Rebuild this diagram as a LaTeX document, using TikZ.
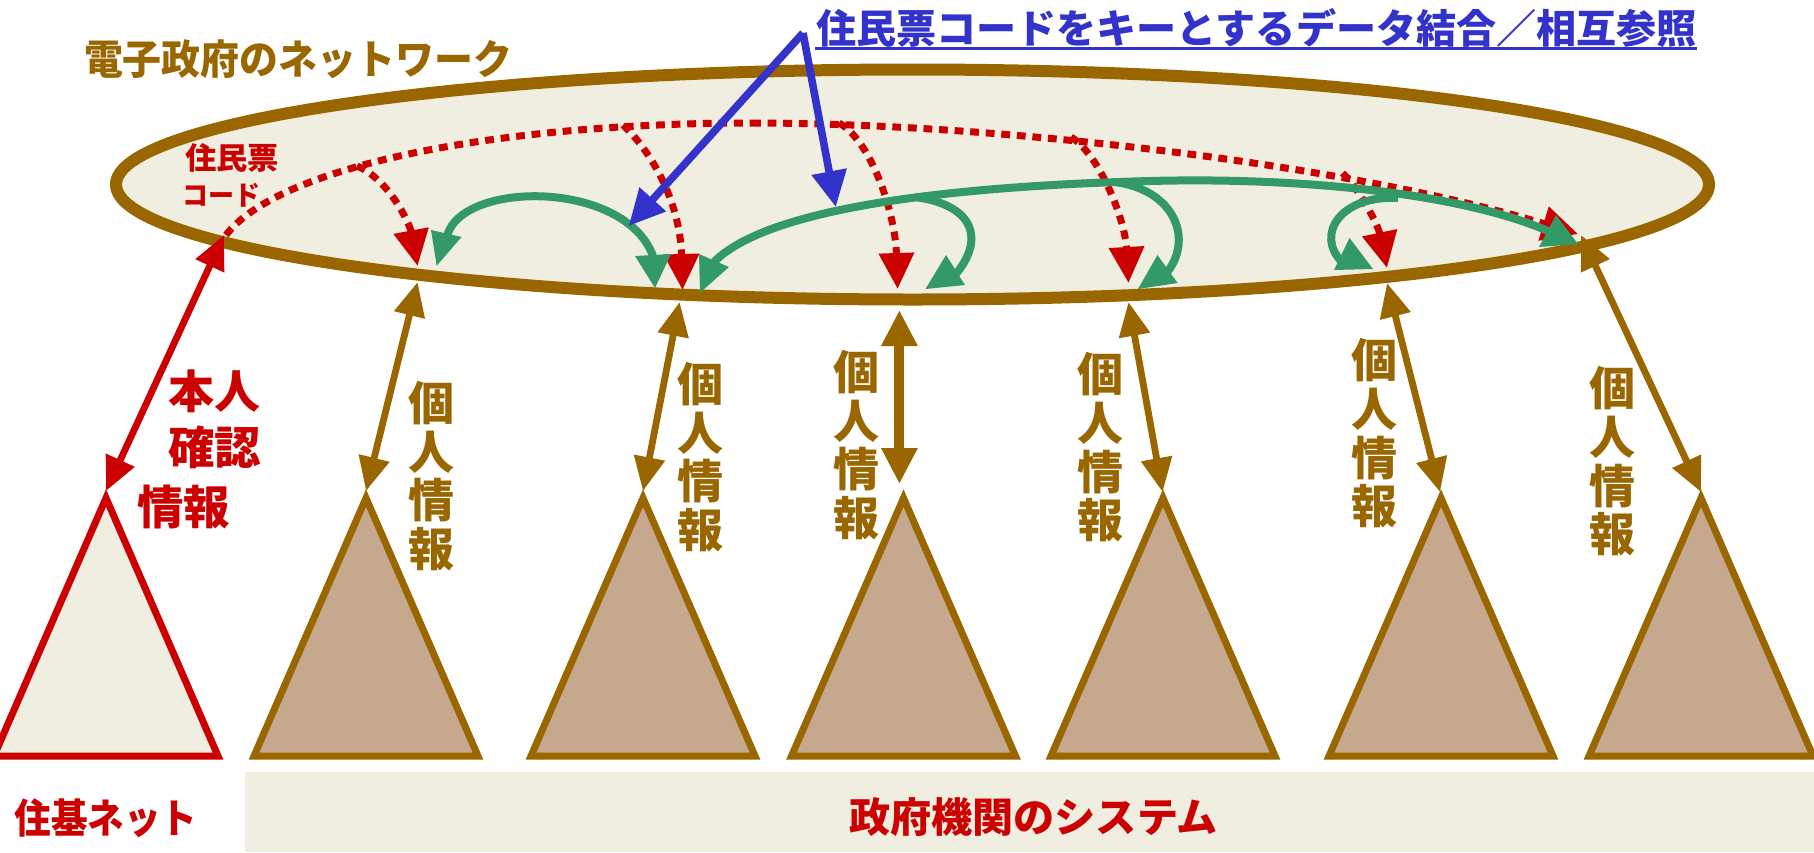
\documentclass[tikz,border=0pt]{standalone}
\usepackage{fontspec}
\usepackage{graphicx}
\setmainfont{Noto Sans CJK JP}
\usetikzlibrary{arrows.meta}
\definecolor{cbrown}{HTML}{996600}
\definecolor{cred}{HTML}{CC0000}
\definecolor{cblue}{HTML}{3333CC}
\definecolor{cgreen}{HTML}{339966}
\definecolor{cbeige}{HTML}{F0EEE0}
\definecolor{ctan}{HTML}{C5A88E}
\newcommand\fitbox[3]{\resizebox*{#1pt}{#2pt}{\bfseries #3}}
\tikzset{
  lab/.style={inner sep=0pt,outer sep=0pt},
  vlab/.style={inner sep=0pt,align=center,text=cbrown,font=\fontsize{23pt}{24.3pt}\selectfont\bfseries},
  tri/.style={line width=3.5pt,line join=miter},
  dbl/.style={line width=3.4pt,{Triangle[length=17pt,width=15pt]}-{Triangle[length=17pt,width=15pt]}},
  redhead/.style={-{Triangle[length=18pt,width=17pt]}},
  dots/.style={line width=3.5pt,cred,dash pattern=on 4.4pt off 3.4pt},
  grn/.style={line width=4pt,cgreen},
  blu/.style={line width=3.8pt,cblue,-{Triangle[length=18pt,width=17pt]}}
}
\begin{document}
\begin{tikzpicture}[x=0.5pt,y=-0.5pt]
\useasboundingbox (0,0) rectangle (1814,852);
\clip (0,0) rectangle (1814,852);
% base band
\fill[cbeige] (245,772) rectangle (1814,852);
% ellipse
\draw[line width=6pt,cbrown,fill=cbeige] (912.5,184.5) ellipse [x radius=796.5,y radius=115];
% triangles
\draw[tri,draw=cred,fill=cbeige] (106,498) -- ++(112,258) -- ++(-224,0) -- cycle;
\foreach \c in {366,643,903.5,1163,1441,1701}
  \draw[tri,draw=cbrown,fill=ctan] (\c,498) -- ++(112,258) -- ++(-224,0) -- cycle;
% anchor points
\coordinate (t1) at (106,491); \coordinate (e1) at (224,235);
\coordinate (t2) at (366,491); \coordinate (e2) at (417.6,282);
\coordinate (t3) at (643,491); \coordinate (e3) at (679.6,302);
\coordinate (t4) at (899.4,484); \coordinate (e4) at (899.4,310);
\coordinate (t5) at (1162.6,492); \coordinate (e5) at (1128.5,302);
\coordinate (t6) at (1440,492); \coordinate (e6) at (1387,283);
\coordinate (t7) at (1701,492); \coordinate (e7) at (1581,235);
\coordinate (m0) at (226,235); \coordinate (mc) at (752,123); \coordinate (mr) at (1578,234);
\coordinate (b1) at (357,166); \coordinate (h1) at (417.6,266);
\coordinate (b2) at (623,125); \coordinate (h2) at (682.5,290);
\coordinate (b3) at (839,123); \coordinate (h3) at (897.6,289);
\coordinate (b4) at (1071,137); \coordinate (h4) at (1128.5,283);
\coordinate (b5) at (1342.5,173); \coordinate (h5) at (1387,268);
\coordinate (g1l) at (447,236); \coordinate (g1r) at (653,256);
\coordinate (g2l) at (714,262); \coordinate (g2m) at (1150,181); \coordinate (g2r) at (1548,231);
\coordinate (bo) at (803,33); \coordinate (bl) at (628.7,226); \coordinate (br) at (835.8,207);
\coordinate (u1) at (815,48.7); \coordinate (u2) at (1697,48.7);
% brown and red double arrows
\draw[dbl,cred] (t1) -- (e1);
\draw[dbl,cbrown] (t2) -- (e2);
\draw[dbl,cbrown] (t3) -- (e3);
\draw[cbrown,line width=5pt,{Triangle[length=18pt,width=17pt]}-{Triangle[length=18pt,width=17pt]}] (t4) -- (e4);
\draw[dbl,cbrown] (t5) -- (e5);
\draw[dbl,cbrown] (t6) -- (e6);
\draw[dbl,cbrown] (t7) -- (e7);
% dotted red
\draw[dots] (m0) .. controls (280,165) and (500,123) .. (mc);
\draw[dots,redhead] (mc) .. controls (1000,123) and (1350,165) .. (mr);
\draw[dots,redhead] (b1) .. controls (390,180) and (410,225) .. (h1);
\draw[dots,redhead] (b2) .. controls (650,150) and (680,200) .. (h2);
\draw[dots,redhead] (b3) .. controls (870,140) and (895,210) .. (h3);
\draw[dots,redhead] (b4) .. controls (1100,155) and (1125,220) .. (h4);
\draw[dots,redhead] (b5) .. controls (1360,190) and (1378,225) .. (h5);
% green
\draw[grn] (g1l) .. controls (462,180) and (625,180) .. (g1r);
\draw[grn] (g2l) .. controls (775,200) and (1000,185) .. (g2m);
\draw[grn] (g2m) .. controls (1300,177) and (1460,193) .. (g2r);
\draw[grn] (915,197) .. controls (975,205) and (985,240) .. (955,275);
\draw[grn] (1115,182) .. controls (1175,190) and (1195,240) .. (1165,275);
\draw[grn] (1398,198) .. controls (1340,195) and (1315,235) .. (1342,262);
\fill[cgreen] (431,230) -- (461.5,237) -- (436.7,265.7) -- cycle;
\fill[cgreen] (635,256) -- (671,254) -- (655,288) -- cycle;
\fill[cgreen] (699,254) -- (729,267) -- (700,292.7) -- cycle;
\fill[cgreen] (1556,215) -- (1539,247) -- (1578,244) -- cycle;
\fill[cgreen] (946,255) -- (925.5,289) -- (965,285) -- cycle;
\fill[cgreen] (1157.4,255) -- (1138,289) -- (1177.7,283) -- cycle;
\fill[cgreen] (1349.5,238) -- (1334,270) -- (1373,269) -- cycle;
% blue
\draw[blu] (bo) -- (bl);
\draw[blu] (bo) -- (br);
\draw[line width=1.5pt,cblue] (u1) -- (u2);
% texts
\node[lab,text=cblue,anchor=south west] (tblue) at (816,47) {\fitbox{440.5}{19.5}{住民票コードをキーとするデータ結合／相互参照}};
\node[lab,text=cbrown,anchor=west] (tnet) at (84,59.5) {\fitbox{214}{19.5}{電子政府のネットワーク}};
\node[lab,text=cred,anchor=west] (tcode1) at (185,157.5) {\fitbox{47}{14.5}{住民票}};
\node[lab,text=cred,anchor=west] (tcode2) at (182,195) {\fitbox{39}{12}{コード}};
\node[lab,text=cred,anchor=west] (tjuki) at (14.5,818.5) {\fitbox{91.5}{19.5}{住基ネット}};
\node[lab,text=cred,anchor=west] (tgov) at (849,817.5) {\fitbox{184.5}{19.5}{政府機関のシステム}};
\node[lab,text=cred,anchor=west] (tr1) at (168,391.5) {\fitbox{46}{21.5}{本人}};
\node[lab,text=cred,anchor=west] (tr2) at (168,447) {\fitbox{46.5}{21.5}{確認}};
\node[lab,text=cred,anchor=west] (tr3) at (137,506.5) {\fitbox{46.5}{22}{情報}};
\node[vlab] (l2) at (431,476) {個\\人\\情\\報};
\node[vlab] (l3) at (700,457) {個\\人\\情\\報};
\node[vlab] (l4) at (856,445) {個\\人\\情\\報};
\node[vlab] (l5) at (1100.8,447.5) {個\\人\\情\\報};
\node[vlab] (l6) at (1374,433.5) {個\\人\\情\\報};
\node[vlab] (l7) at (1612.6,461.5) {個\\人\\情\\報};
\end{tikzpicture}
\end{document}
